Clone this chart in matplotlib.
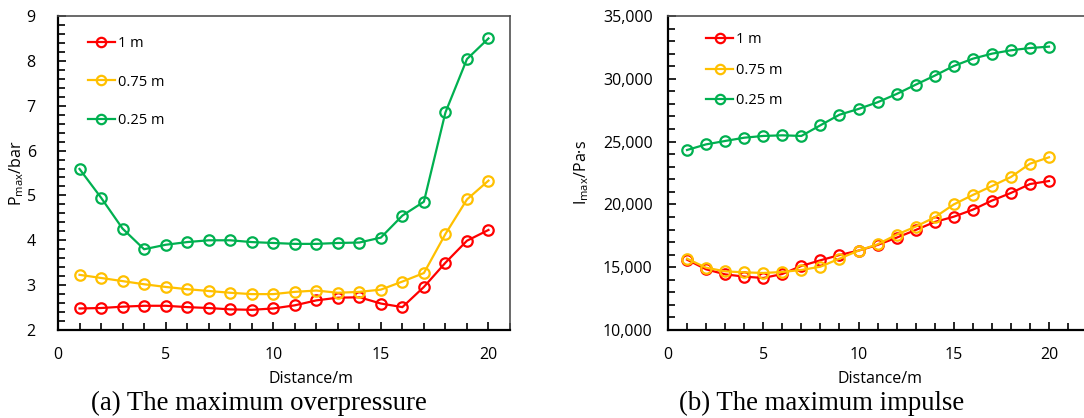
import matplotlib.pyplot as plt
from matplotlib.ticker import MultipleLocator, FuncFormatter

distance = list(range(1, 21))

# maximum overpressure, bar
p_1m = [2.48, 2.49, 2.52, 2.54, 2.54, 2.51, 2.49, 2.46, 2.45, 2.48,
        2.55, 2.66, 2.72, 2.73, 2.59, 2.51, 2.96, 3.50, 3.99, 4.23]
p_075m = [3.23, 3.16, 3.09, 3.02, 2.96, 2.91, 2.87, 2.83, 2.80, 2.80,
          2.85, 2.88, 2.83, 2.85, 2.90, 3.08, 3.27, 4.14, 4.91, 5.33]
p_025m = [5.59, 4.95, 4.26, 3.80, 3.90, 3.96, 4.00, 4.00, 3.96, 3.94,
          3.92, 3.92, 3.94, 3.95, 4.06, 4.55, 4.86, 6.85, 8.04, 8.50]

# maximum impulse, Pa·s
i_1m = [15600, 14830, 14430, 14250, 14140, 14460, 15100, 15550, 15970, 16320,
        16770, 17350, 17960, 18600, 19020, 19580, 20300, 20910, 21620, 21860]
i_075m = [15680, 14960, 14670, 14590, 14540, 14620, 14780, 15040, 15680, 16320,
          16820, 17590, 18230, 18970, 20000, 20750, 21460, 22180, 23240, 23750]
i_025m = [24330, 24780, 25050, 25310, 25450, 25500, 25450, 26300, 27140, 27600,
          28130, 28790, 29530, 30250, 31020, 31600, 32000, 32270, 32450, 32560]

labels = ['1 m', '0.75 m', '0.25 m']
colors = ['#FF0000', '#FFC000', '#00B050']

plt.rcParams['font.family'] = ['Open Sans', 'DejaVu Sans']

W, H = 1084, 418
fig = plt.figure(figsize=(W / 100, H / 100), dpi=100)


def px_axes(left, top, right, bottom):
    return fig.add_axes([left / W, 1 - bottom / H, (right - left) / W, (bottom - top) / H])


def style_axes(ax, ypad):
    for side in ['left', 'bottom']:
        ax.spines[side].set_linewidth(1.6)
        ax.spines[side].set_color('black')
    for side in ['top', 'right']:
        ax.spines[side].set_linewidth(1.2)
        ax.spines[side].set_color('#505050')
    ax.xaxis.set_major_locator(MultipleLocator(5))
    ax.xaxis.set_minor_locator(MultipleLocator(1))
    ax.tick_params(which='both', direction='in', top=False, right=False,
                   labelsize=11.5, width=1.2)
    ax.tick_params(which='major', length=6)
    ax.tick_params(which='minor', length=5)
    ax.tick_params(axis='x', which='major', pad=12)
    ax.tick_params(axis='y', which='major', pad=ypad)


def draw_series(ax, series, anchor, spacing):
    for vals, lab, col in zip(series, labels, colors):
        ax.plot(distance, vals, color=col, lw=1.6, marker='o', ms=7.5,
                mfc='none', mec=col, mew=1.6, label=lab)
    ax.legend(loc='upper left', bbox_to_anchor=anchor, frameon=False,
              fontsize=10.5, handlelength=1.9, handletextpad=0.2,
              labelspacing=spacing, borderaxespad=0.3, markerscale=0.9)


# (a) overpressure
ax1 = px_axes(58, 16, 510, 330)
draw_series(ax1, [p_1m, p_075m, p_025m], (0.043, 0.968), 1.6)
ax1.set_xlim(0, 21)
ax1.set_ylim(2, 9)
ax1.yaxis.set_major_locator(MultipleLocator(1))
ax1.yaxis.set_minor_locator(MultipleLocator(0.2))
style_axes(ax1, 16)
ax1.set_ylabel('P$_{\\mathregular{max}}$/bar', fontsize=11.5)
ax1.yaxis.set_label_coords((26 - 58) / 452, 0.5)
ax1.set_xlabel('Distance/m', fontsize=11.5)
ax1.xaxis.set_label_coords(0.56, -0.13)

# (b) impulse
ax2 = px_axes(668, 16, 1092, 330)
draw_series(ax2, [i_1m, i_075m, i_025m], (0.065, 0.98), 1.05)
ax2.set_xlim(0, (1092 - 668) / 19.05)
ax2.set_ylim(10000, 35000)
ax2.yaxis.set_major_locator(MultipleLocator(5000))
ax2.yaxis.set_minor_locator(MultipleLocator(1000))
ax2.yaxis.set_major_formatter(FuncFormatter(lambda v, _: f'{v:,.0f}'))
style_axes(ax2, 11)
ax2.set_ylabel('I$_{\\mathregular{max}}$/Pa·s', fontsize=11.5)
ax2.yaxis.set_label_coords((591 - 668) / 424, 0.5)
ax2.set_xlabel('Distance/m', fontsize=11.5)
ax2.xaxis.set_label_coords((880 - 668) / (1092 - 668), -0.13)

fig.text(259 / W, 1 - 403 / H, '(a) The maximum overpressure', ha='center', va='center',
         fontsize=19.3, family='Liberation Serif')
fig.text(822 / W, 1 - 403 / H, '(b) The maximum impulse', ha='center', va='center',
         fontsize=19.3, family='Liberation Serif')

fig.savefig('out.png', dpi=100)
